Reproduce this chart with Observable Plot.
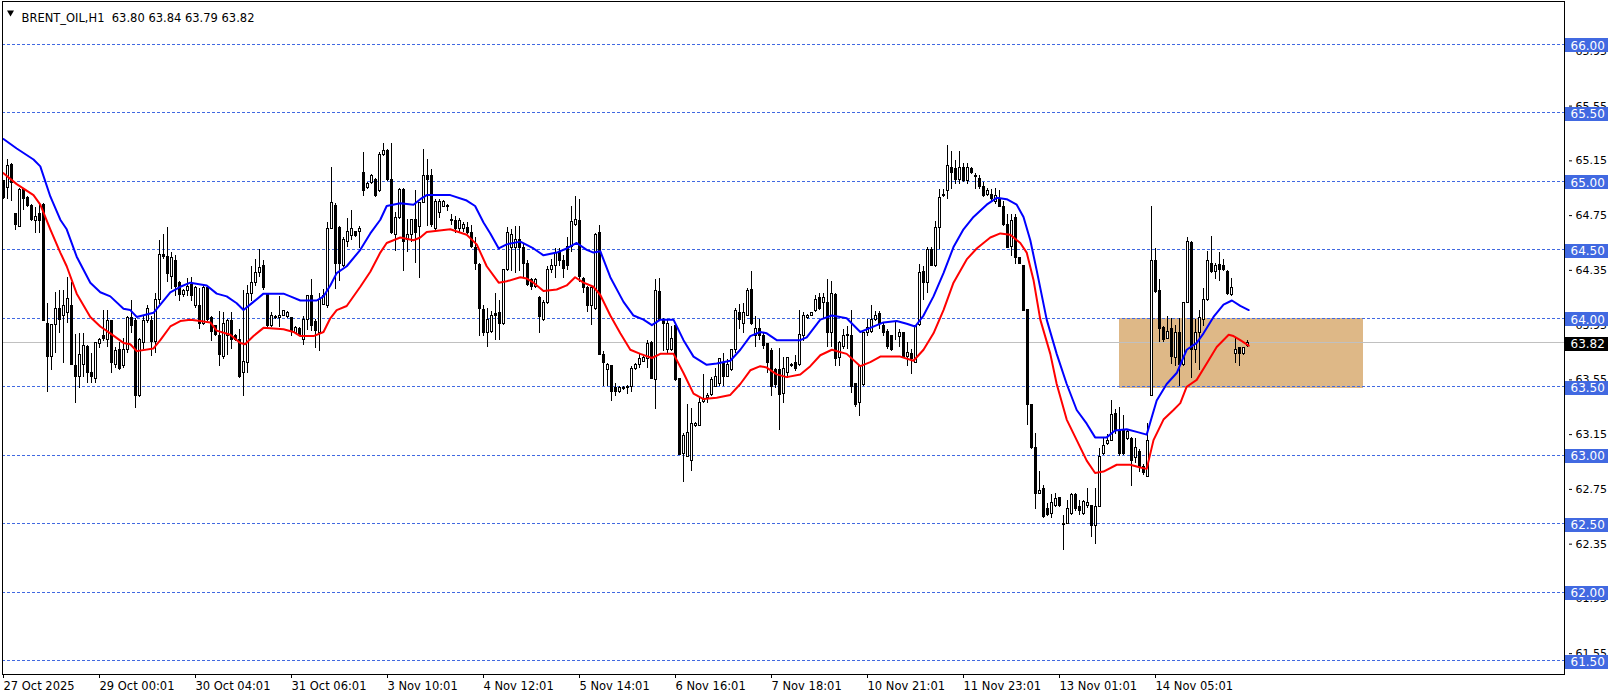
<!DOCTYPE html>
<html><head><meta charset="utf-8">
<script src="https://cdn.jsdelivr.net/npm/d3@7"></script>
<script src="https://cdn.jsdelivr.net/npm/@observablehq/plot@0.6"></script>
<style>body{margin:0;background:#fff;} svg{display:block}</style>
</head><body><div id="chart"></div>
<script>
const symbolTitle = "BRENT_OIL,H1\u00a0 63.80 63.84 63.79 63.82";
const opens = [65.00,64.95,65.12,64.76,64.67,64.94,64.88,64.82,64.71,64.76,
64.83,63.96,63.72,63.95,64.07,64.02,64.04,64.09,63.65,63.57,
63.66,63.79,63.60,63.56,63.81,63.87,63.84,63.98,63.66,63.77,
63.65,63.77,64.00,63.98,63.43,63.82,63.98,63.98,63.83,64.13,
64.46,64.45,64.30,64.42,64.26,64.17,64.20,64.24,64.09,64.09,
63.96,64.22,64.00,63.94,63.87,63.72,63.87,63.98,63.87,63.84,
63.60,63.67,64.18,64.26,64.33,64.38,64.18,63.94,64.01,64.00,
64.02,64.01,64.00,63.89,63.92,63.84,63.99,64.16,63.97,63.89,
64.10,64.09,64.65,64.82,64.66,64.38,64.56,64.60,64.63,64.63,
65.06,64.95,64.99,65.01,64.93,65.19,65.22,65.01,64.61,64.73,
64.94,64.57,64.61,64.72,64.67,64.84,65.04,65.04,64.65,64.77,
64.81,64.82,64.71,64.71,64.65,64.65,64.66,64.62,64.51,64.39,
64.06,63.89,63.90,64.03,64.04,63.96,64.35,64.51,64.51,64.57,
64.51,64.40,64.28,64.23,64.15,63.99,64.11,64.35,64.38,64.48,
64.42,64.52,64.52,64.68,64.71,64.29,64.22,64.09,64.07,64.62,
63.73,63.62,63.65,63.49,63.46,63.49,63.49,63.50,63.63,63.66,
63.68,63.70,63.82,63.55,64.19,63.98,63.77,63.77,63.94,63.56,
63.01,62.99,62.96,63.21,63.21,63.39,63.42,63.44,63.50,63.52,
63.67,63.57,63.62,63.77,64.04,63.96,64.02,64.21,63.87,63.92,
63.87,63.81,63.76,63.62,63.62,63.45,63.60,63.66,63.67,63.66,
63.87,64.00,64.02,64.05,64.15,64.11,64.11,63.89,64.17,63.71,
63.79,63.87,63.87,63.52,63.38,63.51,63.89,63.90,63.99,64.03,
63.94,63.90,63.87,63.87,63.86,63.89,63.72,63.74,63.67,63.95,
64.34,64.26,64.50,64.38,64.66,64.89,64.93,65.10,65.09,65.01,
65.10,65.00,65.09,65.04,65.02,64.96,64.90,64.90,64.85,64.87,
64.81,64.68,64.52,64.73,64.44,64.38,64.06,63.37,63.05,62.72,
62.75,62.61,62.57,62.63,62.69,62.49,62.50,62.57,62.71,62.62,
62.57,62.63,62.63,62.48,62.62,63.01,63.08,63.10,63.30,63.18,
63.18,63.12,63.12,62.98,63.02,62.91,62.84,63.43,64.42,64.20,
63.93,63.85,63.92,63.71,63.89,63.66,64.11,64.55,63.77,63.89,
63.99,64.13,64.40,64.34,64.39,64.38,64.34,64.17,63.74,63.78,
63.74,63.80];
const highs = [65.01,65.16,65.13,64.76,64.95,64.95,64.89,64.83,64.81,64.84,
64.84,64.11,63.95,64.19,64.20,64.20,64.30,64.26,63.88,63.89,
63.89,63.80,63.74,63.82,63.85,64.06,64.06,63.98,63.79,63.82,
63.85,64.01,64.13,64.00,63.85,64.01,64.09,64.01,64.18,64.57,
64.61,64.66,64.48,64.46,64.27,64.21,64.29,64.30,64.23,64.22,
64.23,64.23,64.01,63.95,64.05,64.04,63.99,64.04,63.88,63.92,
64.20,64.24,64.38,64.43,64.50,64.42,64.18,64.04,64.02,64.16,
64.06,64.05,64.00,63.94,63.93,64.01,64.16,64.28,63.99,64.18,
64.21,64.70,65.10,64.84,64.67,64.59,64.73,64.79,64.63,64.67,
65.21,64.99,65.05,65.02,65.21,65.28,65.23,65.28,64.77,64.95,
64.95,64.72,64.72,64.93,64.84,65.23,65.16,65.09,64.87,64.87,
64.86,64.83,64.76,64.74,64.73,64.70,64.70,64.68,64.59,64.40,
64.09,64.07,64.05,64.18,64.13,64.35,64.66,64.65,64.67,64.67,
64.54,64.42,64.29,64.29,64.16,64.13,64.38,64.43,64.51,64.51,
64.46,64.59,64.82,64.89,64.87,64.30,64.23,64.22,64.62,64.68,
63.76,63.67,63.65,63.52,63.50,63.50,63.51,63.65,63.67,63.74,
63.72,63.84,63.83,64.28,64.29,64.00,63.99,63.94,63.94,63.56,
63.16,63.37,63.34,63.24,63.42,63.59,63.45,63.57,63.63,63.70,
63.74,63.70,63.77,64.07,64.10,64.11,64.22,64.34,64.01,63.99,
63.89,63.81,63.78,63.63,63.78,63.71,63.71,63.67,63.73,64.06,
64.04,64.03,64.04,64.17,64.18,64.18,64.28,64.27,64.18,63.83,
63.92,63.94,64.06,63.52,63.65,63.89,63.99,64.09,64.05,64.05,
63.96,63.92,63.87,63.98,63.92,63.89,63.82,63.77,63.95,64.39,
64.38,64.52,64.52,64.71,64.94,64.94,65.26,65.22,65.15,65.22,
65.13,65.13,65.10,65.06,65.04,64.99,64.95,64.94,64.95,64.93,
64.85,64.76,64.76,64.76,64.44,64.38,64.06,63.37,63.16,62.88,
62.78,62.65,62.71,62.72,62.69,62.56,62.67,62.72,62.72,62.67,
62.67,62.76,62.63,62.76,63.05,63.12,63.15,63.40,63.33,63.35,
63.29,63.18,63.13,63.12,63.04,62.93,63.23,64.82,64.51,64.28,
63.94,64.01,64.00,63.95,64.00,64.11,64.59,64.56,63.99,64.06,
64.22,64.49,64.60,64.40,64.48,64.43,64.35,64.29,63.85,63.79,
63.79,63.84];
const lows = [64.87,64.87,64.85,64.64,64.67,64.79,64.81,64.71,64.62,64.62,
63.98,63.46,63.62,63.74,63.89,63.67,63.96,63.66,63.38,63.49,
63.57,63.52,63.52,63.52,63.78,63.83,63.79,63.60,63.63,63.62,
63.63,63.74,63.89,63.34,63.42,63.77,63.96,63.72,63.74,64.10,
64.43,64.26,64.21,64.16,64.12,64.15,64.16,64.12,64.07,63.92,
63.95,63.98,63.83,63.87,63.65,63.70,63.73,63.77,63.83,63.56,
63.43,63.60,64.12,64.23,64.30,64.20,63.93,63.93,63.99,63.93,
64.01,64.00,63.87,63.88,63.87,63.80,63.91,63.90,63.78,63.76,
64.09,64.07,64.65,64.21,64.27,64.37,64.52,64.57,64.59,64.51,
64.89,64.94,64.98,64.88,64.92,65.18,65.00,64.61,64.49,64.72,
64.34,64.48,64.55,64.40,64.29,64.84,64.67,64.66,64.63,64.73,
64.81,64.78,64.68,64.62,64.62,64.63,64.61,64.51,64.35,63.87,
63.87,63.79,63.89,63.84,63.84,63.95,64.34,64.34,64.33,64.34,
64.30,64.23,64.20,64.22,63.89,63.98,64.10,64.33,64.29,64.38,
64.29,64.35,64.48,64.67,64.26,64.18,64.04,63.95,64.06,63.73,
63.50,63.50,63.39,63.43,63.45,63.47,63.44,63.46,63.62,63.63,
63.68,63.63,63.55,63.33,63.98,63.76,63.74,63.76,63.54,63.00,
62.80,62.98,62.88,63.20,63.21,63.38,63.38,63.43,63.50,63.50,
63.50,63.57,63.61,63.74,63.92,63.89,64.01,63.95,63.79,63.84,
63.77,63.60,63.43,63.49,63.18,63.38,63.56,63.64,63.61,63.65,
63.83,63.99,64.01,64.04,64.06,63.99,63.79,63.79,63.65,63.65,
63.77,63.77,63.45,63.35,63.28,63.50,63.87,63.89,63.98,63.92,
63.87,63.77,63.76,63.84,63.79,63.71,63.65,63.59,63.67,63.94,
64.13,64.18,64.38,64.37,64.50,64.88,64.87,64.94,64.98,64.98,
64.99,64.98,65.05,64.94,64.94,64.88,64.89,64.85,64.83,64.81,
64.67,64.51,64.45,64.39,64.39,64.05,63.22,63.04,62.60,62.72,
62.54,62.55,62.54,62.62,62.62,62.30,62.50,62.56,62.59,62.56,
62.56,62.61,62.40,62.35,62.62,63.00,63.07,63.10,63.15,62.99,
63.00,63.11,62.77,62.94,62.87,62.85,62.84,63.43,64.18,63.82,
63.82,63.85,63.66,63.65,63.50,63.65,64.11,63.56,63.67,63.62,
63.94,64.12,64.33,64.28,64.27,64.34,64.17,64.16,63.67,63.65,
63.73,63.79];
const closes = [64.88,65.11,64.99,64.68,64.94,64.87,64.82,64.72,64.74,64.71,
63.98,63.72,63.95,64.07,63.99,64.09,64.14,63.66,63.57,63.73,
63.80,63.60,63.57,63.82,63.84,63.85,63.98,63.67,63.76,63.63,
63.77,64.00,63.94,63.43,63.84,63.98,64.07,63.83,64.13,64.46,
64.45,64.32,64.44,64.23,64.17,64.20,64.23,64.16,64.22,63.96,
64.22,63.99,63.90,63.88,63.73,63.96,63.98,63.84,63.84,63.57,
63.68,64.18,64.26,64.33,64.37,64.22,63.94,64.02,64.00,64.02,
64.05,64.04,63.90,63.93,63.87,63.99,64.16,63.94,63.91,64.13,
64.16,64.65,64.84,64.40,64.40,64.57,64.63,64.65,64.60,64.65,
64.93,64.98,65.04,64.89,65.19,65.22,65.01,64.62,64.73,64.94,
64.56,64.61,64.72,64.62,64.84,65.04,65.01,64.68,64.85,64.85,
64.85,64.81,64.72,64.65,64.71,64.68,64.62,64.52,64.40,64.07,
63.89,63.99,64.02,64.02,63.96,64.35,64.62,64.61,64.57,64.51,
64.40,64.24,64.23,64.28,64.01,64.11,64.35,64.38,64.48,64.42,
64.36,64.38,64.70,64.72,64.30,64.22,64.09,64.22,64.61,63.73,
63.67,63.66,63.46,63.46,63.49,63.48,63.50,63.63,63.66,63.70,
63.71,63.81,63.56,64.20,63.99,63.96,63.96,63.85,63.55,63.00,
63.14,63.16,63.23,63.23,63.38,63.40,63.43,63.55,63.57,63.70,
63.57,63.66,63.77,64.05,63.99,64.04,64.20,63.96,63.92,63.87,
63.80,63.67,63.50,63.51,63.44,63.63,63.71,63.65,63.63,63.88,
64.02,64.02,64.04,64.13,64.07,64.15,63.89,64.18,63.70,63.82,
63.87,63.88,63.50,63.37,63.65,63.89,63.93,63.99,64.02,63.96,
63.89,63.79,63.77,63.87,63.89,63.72,63.75,63.70,63.94,64.33,
64.26,64.50,64.38,64.66,64.88,64.90,65.11,65.06,65.01,65.10,
65.00,65.10,65.06,65.03,64.96,64.89,64.93,64.87,64.89,64.81,
64.68,64.51,64.71,64.44,64.40,64.05,63.37,63.05,62.72,62.74,
62.55,62.56,62.65,62.68,62.63,62.50,62.61,62.71,62.61,62.59,
62.66,62.65,62.48,62.62,62.99,63.07,63.10,63.29,63.18,63.01,
63.01,63.17,62.96,63.05,62.91,62.87,63.10,64.42,64.19,63.92,
63.84,63.90,63.72,63.89,63.66,64.11,64.56,63.77,63.89,64.00,
64.13,64.42,64.34,64.38,64.35,64.35,64.18,64.22,63.77,63.74,
63.78,63.82];

// moving averages: bar position / price
const blueIdx = [0,3.3,7.5,9.2,11.7,14.2,15.8,18.3,21.7,24.2,26.7,30,31.7,33.3,37.5,39.2,41.7,44.2,46.7,50.8,53.3,55.8,58.3,60,62.5,65,70,71.7,74.2,78.3,80,81.7,83.3,85.8,89.2,91.7,94.2,95.8,99.2,102.5,104.2,105.8,111.7,115.8,117.9,120,121.7,123.8,125.8,129.2,132.5,135,138.3,140.8,143.3,145.8,147.5,149.2,151.7,155,157.5,160,162.1,164.2,167.5,170,172.5,175.8,178.3,181.7,184.2,186.7,189.2,190.8,193.3,195.8,199.2,200.8,204.2,207.1,210.8,214.2,216.7,220,223.3,225.8,227.9,230,232.5,235,237.5,240,242.5,245.8,248.3,250.8,253.3,255,256.7,258.3,260.8,263.3,265.8,268.3,270.8,272.9,275.8,277.9,280.8,283.3,285.8,287.1,288.3,290.8,293.3,295.8,298.3,300,302.5,305,307.1,309.2,311.3];
const blueVal = [65.31,65.24,65.16,65.11,64.89,64.72,64.65,64.45,64.26,64.19,64.16,64.07,64.06,64.01,64.04,64.10,64.19,64.23,64.26,64.24,64.18,64.16,64.11,64.06,64.12,64.18,64.18,64.16,64.13,64.13,64.16,64.24,64.33,64.38,64.50,64.62,64.72,64.82,64.84,64.83,64.87,64.90,64.90,64.86,64.82,64.70,64.62,64.51,64.54,64.56,64.51,64.46,64.48,64.51,64.55,64.50,64.48,64.49,64.30,64.12,64.02,63.99,63.95,63.99,63.99,63.84,63.72,63.66,63.67,63.69,63.77,63.87,63.90,63.89,63.84,63.84,63.84,63.86,63.99,64.02,64.00,63.90,63.93,63.97,63.98,63.96,63.94,64.02,64.16,64.33,64.52,64.65,64.74,64.83,64.88,64.87,64.83,64.74,64.57,64.35,63.99,63.74,63.52,63.33,63.23,63.13,63.13,63.18,63.19,63.17,63.15,63.28,63.40,63.52,63.60,63.77,63.82,63.89,64.01,64.10,64.13,64.09,64.06];
const redIdx = [0,3.3,7.5,9.2,11.7,14.2,15.8,18.3,21.7,24.2,26.7,30,31.7,33.3,37.5,39.2,41.7,44.2,46.7,49.2,51.7,53.3,56.7,59.2,60.4,62.5,65,70,72.5,74.2,77.5,80,81.7,83.3,85.8,89.2,91.7,94.2,95.8,99.2,102.5,104.2,105.8,111.7,115.8,118.3,120.8,123.8,125.8,129.2,130.8,132.5,135,138.3,140.8,142.9,145,147.5,149.2,151.7,154.2,156.7,159.2,162.1,164.2,167.5,170,172.5,175,178.3,181.7,184.2,186.7,189.2,190.8,193.3,195.8,199.2,201.7,204.2,207.1,210.8,214.2,216.7,219.2,224.2,227.5,230,232.5,235,237.5,240.8,243.3,246.7,249.2,251.7,254.2,255.8,257.5,259.2,261.7,263.3,265.8,268.3,270.8,272.9,275,278.3,281.7,284.2,285.8,287.5,290,292.5,294.2,295.8,298.3,300.8,303.3,306.3,307.5,309.2,311.3];
const redVal = [65.06,64.98,64.90,64.83,64.65,64.48,64.38,64.18,64.01,63.94,63.89,63.82,63.81,63.76,63.78,63.84,63.94,63.98,63.99,63.98,63.97,63.91,63.88,63.82,63.81,63.87,63.93,63.92,63.90,63.87,63.87,63.90,64.00,64.06,64.09,64.23,64.34,64.48,64.55,64.59,64.57,64.59,64.63,64.65,64.61,64.54,64.38,64.26,64.27,64.30,64.29,64.26,64.20,64.21,64.24,64.30,64.26,64.23,64.17,64.02,63.89,63.77,63.74,63.71,63.74,63.74,63.60,63.45,63.41,63.42,63.44,63.52,63.62,63.65,63.64,63.59,63.57,63.59,63.65,63.73,63.77,63.74,63.65,63.68,63.72,63.72,63.69,63.77,63.89,64.06,64.26,64.43,64.51,64.59,64.62,64.61,64.55,64.48,64.28,63.99,63.74,63.52,63.26,63.11,62.96,62.87,62.88,62.93,62.93,62.91,62.90,63.11,63.26,63.33,63.38,63.50,63.55,63.67,63.79,63.88,63.87,63.84,63.80];

const levels = [66.0,65.5,65.0,64.5,64.0,63.5,63.0,62.5,62.0,61.5];
const levelLabels = ["66.00","65.50","65.00","64.50","64.00","63.50","63.00","62.50","62.00","61.50"];
const axisTicks = [65.95,65.55,65.15,64.75,64.35,63.95,63.55,63.15,62.75,62.35,61.95,61.55];
const timeTicks = [0,24,48,72,96,120,144,168,192,216,240,264,288];
const timeLabels = ["27 Oct 2025","29 Oct 00:01","30 Oct 04:01","31 Oct 06:01","3 Nov 10:01","4 Nov 12:01","5 Nov 14:01","6 Nov 16:01","7 Nov 18:01","10 Nov 21:01","11 Nov 23:01","13 Nov 01:01","14 Nov 05:01"];
const lastPrice = [63.82];
const lastLabel = ["63.82"];
const zoneStart = [279], zoneEnd = [340], zoneTop = [64.00], zoneBottom = [63.49];

const candles = opens.map((o, i) => ({i, open: o, high: highs[i], low: lows[i], close: closes[i]}));
const blue = blueIdx.map((x, k) => ({x, y: blueVal[k]}));
const red = redIdx.map((x, k) => ({x, y: redVal[k]}));
const zone = zoneStart.map((s, k) => ({s, e: zoneEnd[k], t: zoneTop[k], b: zoneBottom[k]}));
const FONT = "'DejaVu Sans', sans-serif";

const chart = Plot.plot({
  width: 1614, height: 698,
  marginLeft: 2, marginRight: 50, marginTop: 1, marginBottom: 24,
  x: {type: "linear", domain: [-0.25, 390.25]},
  y: {type: "linear", domain: [61.3978, 66.3141]},
  style: {fontFamily: FONT, fontSize: "11.5px", background: "white", color: "black"},
  marks: [
    Plot.rect(zone, {x1: "s", x2: "e", y1: "b", y2: "t", fill: "#deb887", shapeRendering: "crispEdges"}),
    Plot.ruleY(levels, {stroke: "#4169e1", strokeDasharray: "3,2", shapeRendering: "crispEdges"}),
    Plot.ruleY(lastPrice, {stroke: "#c0c0c0", shapeRendering: "crispEdges"}),
    Plot.ruleX(candles, {x: "i", y1: "low", y2: "high", stroke: "black", shapeRendering: "crispEdges"}),
    Plot.rect(candles, {x1: d => d.i - 0.25, x2: d => d.i + 0.25, y1: "open", y2: "close",
      fill: d => d.close >= d.open ? "white" : "black", stroke: "black", shapeRendering: "crispEdges"}),
    Plot.line(blue, {x: "x", y: "y", stroke: "#0000ff", strokeWidth: 2}),
    Plot.line(red, {x: "x", y: "y", stroke: "#ff0000", strokeWidth: 2}),
    Plot.frame({stroke: "black", shapeRendering: "crispEdges"}),
    Plot.axisY({anchor: "right", ticks: axisTicks, tickFormat: d3.format(".2f"), tickSize: 3, tickPadding: 4, dx: 4, fontSize: 11}),
    Plot.axisX({ticks: timeTicks, tickFormat: d => timeLabels[timeTicks.indexOf(d)], textAnchor: "start", tickSize: 4, tickPadding: 3, fontSize: 11.5}),
    Plot.dot([0], {frameAnchor: "top-left", dx: 8, dy: 11, symbol: "triangle", r: 2.6, rotate: 180, fill: "black", stroke: null}),
    Plot.text([symbolTitle], {frameAnchor: "top-left", dx: 19, dy: 12, textAnchor: "start", fontSize: 11.5, fill: "black"})
  ]
});

// price labels on the right axis, placed with the chart's own y scale
const ys = chart.scale("y");
const svg = d3.select(chart);
const g = svg.append("g").attr("font-family", FONT).attr("text-anchor", "start");
function priceBox(v, txt, bg, size) {
  const yc = ys.apply(v) + 0.5;
  g.append("rect").attr("x", 1565).attr("y", Math.round(yc - 6)).attr("width", 43).attr("height", 14).attr("fill", bg);
  g.append("text").attr("x", 1570.5).attr("y", yc + 1).attr("dy", "0.36em").attr("text-anchor", "start")
    .attr("font-size", size).attr("fill", "white").text(txt);
}
levels.forEach((v, k) => priceBox(v, levelLabels[k], "#4169e1", 12));
lastPrice.forEach((v, k) => priceBox(v, lastLabel[k], "#000000", 12));

document.getElementById("chart").appendChild(chart);
</script>
</body></html>
